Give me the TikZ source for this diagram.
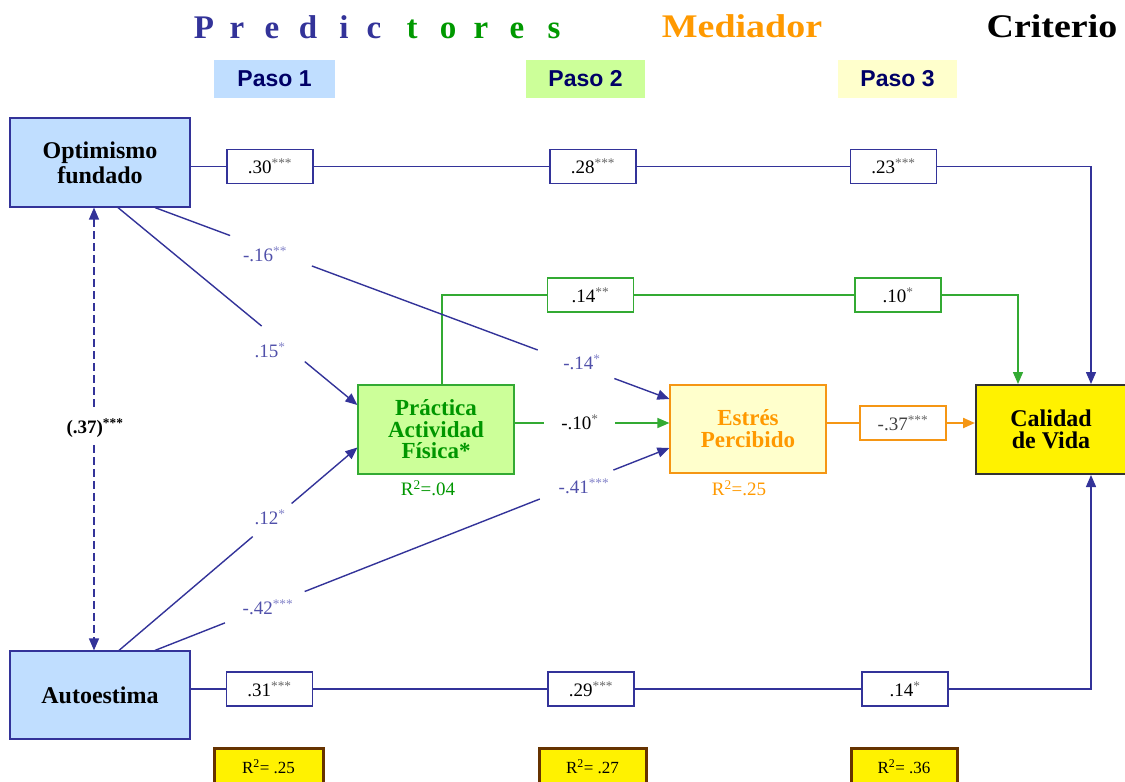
\documentclass[tikz,border=0pt]{standalone}
\usepackage{fontspec}
\usepackage{graphicx}
\setmainfont{Liberation Serif}
\newfontfamily\arialf{Liberation Sans}
\usetikzlibrary{arrows.meta,calc}

\definecolor{vblue}{RGB}{51,51,153}
\definecolor{lblue}{RGB}{192,222,255}
\definecolor{lgreen}{RGB}{204,255,153}
\definecolor{lyel}{RGB}{255,255,204}
\definecolor{grnb}{RGB}{51,170,51}
\definecolor{grnt}{RGB}{0,150,0}
\definecolor{orng}{RGB}{245,150,20}
\definecolor{orngt}{RGB}{255,153,0}
\definecolor{tblue}{RGB}{51,51,153}
\definecolor{tgreen}{RGB}{0,153,0}
\definecolor{navy}{RGB}{0,0,102}
\definecolor{lbl}{RGB}{80,80,170}
\definecolor{lblstar}{RGB}{130,130,200}
\definecolor{brn}{RGB}{102,51,0}

% significance stars: grey for boxed coefficients, light blue for path labels
\newcommand\stk[1]{\textsuperscript{\color{black!60}#1}}
\newcommand\stb[1]{\textsuperscript{\color{lblstar}#1}}
% wide heading words
\newcommand\wideword[1]{\scalebox{1.15}[1]{#1}}

\tikzset{
  every node/.style={font=\fontsize{19}{21}\selectfont},
  titletxt/.style={font=\fontsize{33}{36}\selectfont\bfseries, inner sep=0pt, anchor=base},
  pasobox/.style={font=\arialf\fontsize{23}{25}\selectfont\bfseries, text=navy,
    minimum width=119pt, minimum height=38pt, inner sep=0pt},
  var/.style={draw=vblue, fill=lblue, line width=1.2pt, minimum width=180pt,
    minimum height=89pt, inner sep=0pt, align=center,
    font=\fontsize{24}{25}\selectfont\bfseries},
  coef/.style={draw=vblue, fill=white, line width=1.2pt, minimum width=86pt,
    minimum height=34pt, inner sep=0pt},
  rbox/.style={draw=brn, fill=yellow, line width=3pt, minimum height=38pt,
    inner sep=0pt, font=\fontsize{17}{19}\selectfont},
  lbl/.style={text=lbl, inner sep=1pt},
  bl/.style={draw=vblue, line width=1.4pt},
  gl/.style={draw=grnb, line width=1.4pt},
  ol/.style={draw=orng, line width=2.2pt},
  >={Triangle[length=12pt,width=10pt]},
}

\begin{document}
\begin{tikzpicture}[x=1pt,y=-1pt]
\useasboundingbox (0,0) rectangle (1125,782);

% headings
\foreach \l/\x/\c [count=\i] in {P/204/tblue, r/237/tblue, e/272/tblue, d/308/tblue,
    i/344/tblue, c/374/tblue, t/412/tgreen, o/448/tgreen, r/481/tgreen, e/517/tgreen, s/554/tgreen}
  \node[titletxt, text=\c] (pl\i) at (\x,38) {\l};
\node[titletxt, text=orngt] (med) at (742,37) {\wideword{Mediador}};
\node[titletxt, text=black] (crit) at (1052,37) {\wideword{Criterio}};

\node[pasobox, fill=lblue, minimum width=121pt] (paso1) at (274.5,79) {Paso 1};
\node[pasobox, fill=lgreen] (paso2) at (585.5,78.5) {Paso 2};
\node[pasobox, fill=lyel] (paso3) at (897.5,78.5) {Paso 3};

% variables
\node[var] (opt) at (100,162.5) {Optimismo\\fundado};
\node[var, minimum height=88pt] (aut) at (100,695) {Autoestima};
\node[var, draw=grnb, fill=lgreen, text=grnt, minimum width=156pt,
  font=\fontsize{23}{21.5}\selectfont\bfseries] (pra) at (436,429.5) {Práctica\\Actividad\\Física*};
\node[var, draw=orng, fill=lyel, text=orngt, minimum width=156pt, minimum height=88pt,
  font=\fontsize{23}{22}\selectfont\bfseries] (est) at (748,429) {Estrés\\Percibido};
\node[var, draw=black!80, fill=yellow, minimum width=150pt, line width=2pt,
  font=\fontsize{24}{22}\selectfont\bfseries] (cal) at (1051,429.5) {Calidad\\de Vida};

% coefficients on the direct paths
\node[coef] (c30) at (270,166.5) {.30\stk{***}};
\node[coef] (c28) at (593,166.5) {.28\stk{***}};
\node[coef] (c23) at (893.5,166.5) {.23\stk{***}};
\node[coef, draw=grnb] (c14) at (590.5,295) {.14\stk{**}};
\node[coef, draw=grnb] (c10) at (898,295) {.10\stk{*}};
\node[coef] (c31) at (269.5,689) {.31\stk{***}};
\node[coef] (c29) at (591,689) {.29\stk{***}};
\node[coef] (c14b) at (905,689) {.14\stk{*}};
\node[coef, draw=orng, text=black!75] (c37) at (903,423) {-.37\stk{***}};

% top path: Optimismo -> Calidad de Vida
\draw[bl] (opt.east |- c30.west) -- (c30.west);
\draw[bl] (c30.east) -- (c28.west) (c28.east) -- (c23.west);
\draw[bl,->] (c23.east) -| ([xshift=40pt]cal.north);

% green path: Actividad Fisica -> Calidad de Vida
\draw[gl] ([xshift=6pt]pra.north) |- (c14.west);
\draw[gl] (c14.east) -- (c10.west);
\draw[gl,->] (c10.east) -| ([xshift=-33pt]cal.north);

% bottom path: Autoestima -> Calidad de Vida
\draw[bl] (aut.east |- c31.west) -- (c31.west);
\draw[bl] (c31.east) -- (c29.west) (c29.east) -- (c14b.west);
\draw[bl,->] (c14b.east) -| ([xshift=40pt]cal.south);

% mediator -> criterion
\draw[ol] (est.east |- c37.west) -- (c37.west);
\draw[ol,->] (c37.east) -- (cal.west |- c37.east);

% end points of the oblique paths
\coordinate (o1) at ([xshift=18pt]opt.south);
\coordinate (o2) at ([xshift=55pt]opt.south);
\coordinate (a1) at ([xshift=19pt]aut.north);
\coordinate (a2) at ([xshift=55pt]aut.north);
\coordinate (pin1) at ([yshift=24.5pt]pra.west);
\coordinate (pin2) at ([yshift=-18pt]pra.west);
\coordinate (ein1) at ([yshift=30pt]est.west);
\coordinate (ein2) at ([yshift=-19pt]est.west);

% Optimismo -> Practica
\path (o1) -- (pin1) coordinate[pos=.60] (g1a) coordinate[pos=.78] (g1b);
\draw[bl] (o1) -- (g1a);
\draw[bl,->] (g1b) -- (pin1);
\node[lbl] (l15) at (270,350) {.15\stb{*}};

% Optimismo -> Estres
\path (o2) -- (ein1) coordinate[pos=.146] (g2a) coordinate[pos=.305] (g2b)
  coordinate[pos=.744] (g2c) coordinate[pos=.893] (g2d);
\draw[bl] (o2) -- (g2a) (g2b) -- (g2c);
\draw[bl,->] (g2d) -- (ein1);
\node[lbl] (l16) at (265,254) {-.16\stb{**}};
\node[lbl] (l14) at (582,362) {-.14\stb{*}};

% Autoestima -> Practica
\path (a1) -- (pin2) coordinate[pos=.561] (g3a) coordinate[pos=.724] (g3b);
\draw[bl] (a1) -- (g3a);
\draw[bl,->] (g3b) -- (pin2);
\node[lbl] (l12) at (270,517) {.12\stb{*}};

% Autoestima -> Estres
\path (a2) -- (ein2) coordinate[pos=.136] (g4a) coordinate[pos=.291] (g4b)
  coordinate[pos=.748] (g4c) coordinate[pos=.891] (g4d);
\draw[bl] (a2) -- (g4a) (g4b) -- (g4c);
\draw[bl,->] (g4d) -- (ein2);
\node[lbl] (l42) at (268,607) {-.42\stb{***}};
\node[lbl] (l41) at (584,486) {-.41\stb{***}};

% Practica -> Estres
\path ([yshift=6.5pt]pra.east) coordinate (pe1) -- ([yshift=6pt]est.west) coordinate (pe2)
  coordinate[pos=.19] (g6a) coordinate[pos=.65] (g6b);
\draw[gl] (pe1) -- (g6a);
\draw[gl,->] (g6b) -- (pe2);
\node (l10) at (580,422) {-.10\stk{*}};

% correlation between predictors
\coordinate (d1) at ([xshift=-6pt]opt.south);
\coordinate (d2) at ([xshift=-6pt]aut.north);
\path (d1) -- (d2) coordinate[pos=.457] (g5a) coordinate[pos=.536] (g5b);
\draw[bl,dash pattern=on 8pt off 4pt,<-] (d1) -- (g5a);
\draw[bl,dash pattern=on 8pt off 4pt,->] (g5b) -- (d2);
\node (l37) at (95,428) {\bfseries(.37)\textsuperscript{***}};

% explained variance
\node[text=grnt] (r2pra) at (428,488) {R\textsuperscript{2}=.04};
\node[text=orngt] (r2est) at (739,488) {R\textsuperscript{2}=.25};

\begin{scope}
\clip (0,0) rectangle (1125,782);
\node[rbox, minimum width=109pt] (rs1) at (268.5,767) {R\textsuperscript{2}= .25};
\node[rbox, minimum width=107pt] (rs2) at (592.5,767) {R\textsuperscript{2}= .27};
\node[rbox, minimum width=106pt] (rs3) at (904,767) {R\textsuperscript{2}= .36};
\end{scope}
\end{tikzpicture}
\end{document}
